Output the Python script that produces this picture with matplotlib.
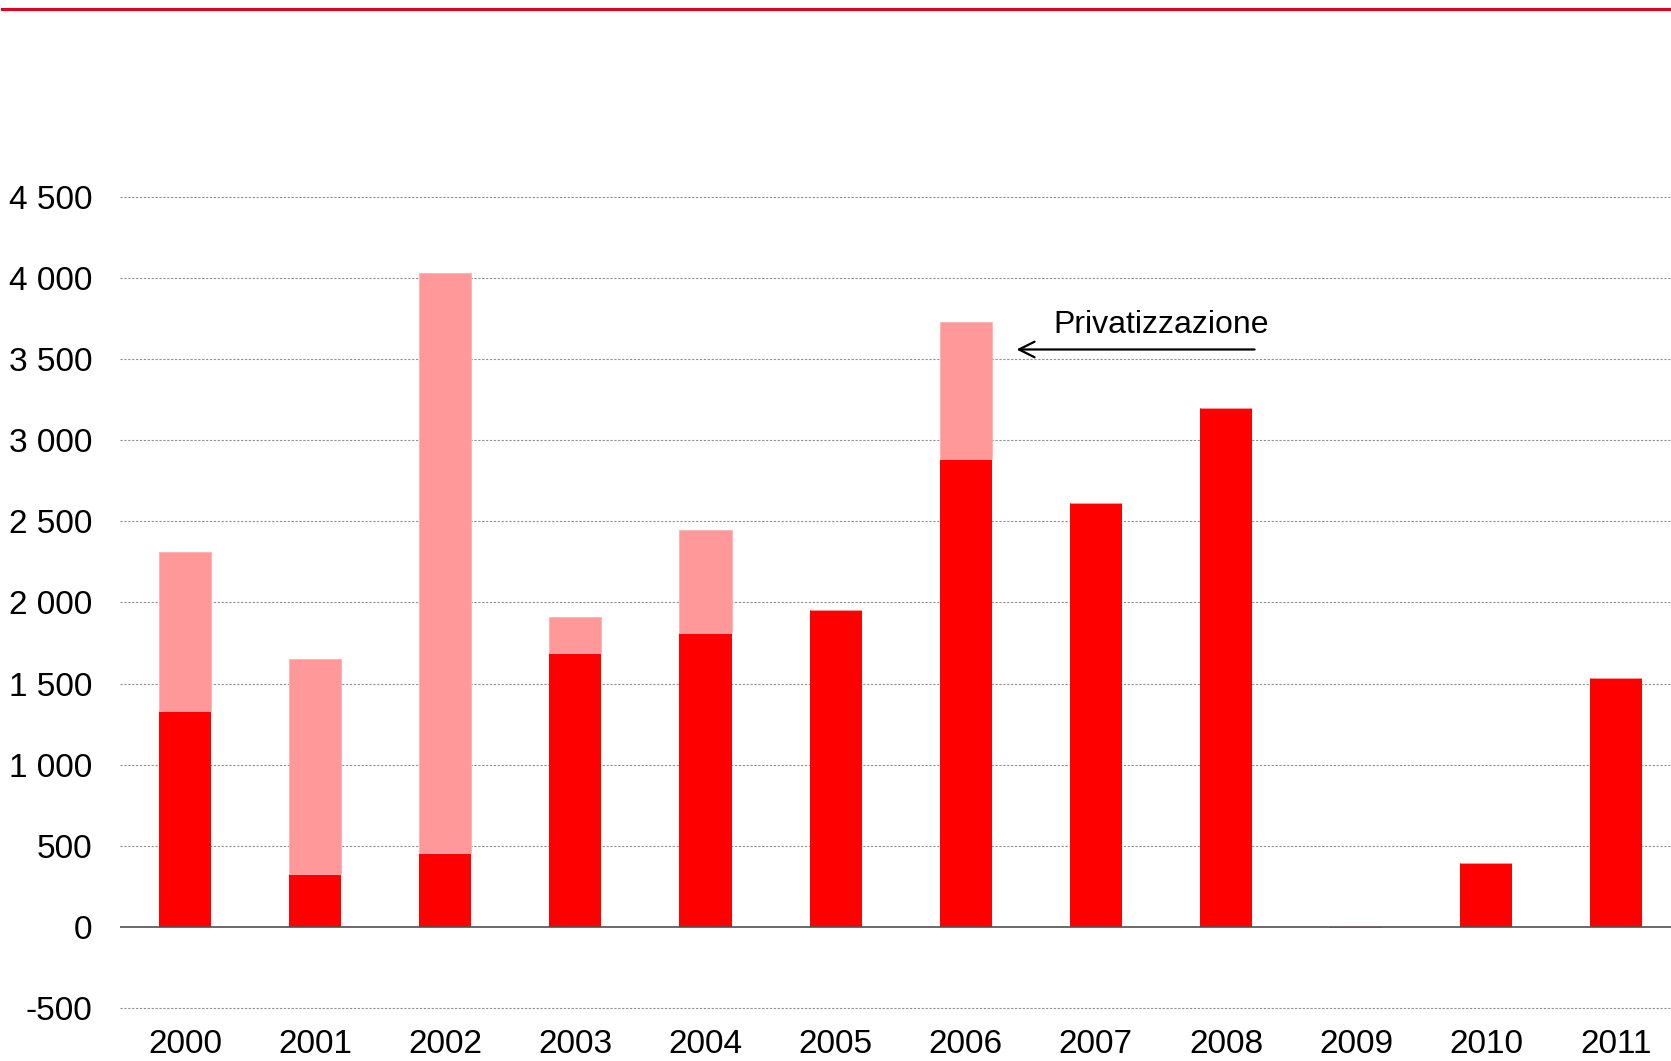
import matplotlib
matplotlib.use("Agg")
import matplotlib.pyplot as plt
from matplotlib.lines import Line2D
from matplotlib.ticker import FuncFormatter

years = ["2000", "2001", "2002", "2003", "2004", "2005", "2006", "2007", "2008", "2009", "2010", "2011"]
base_values = [1334, 328, 453, 1688, 1813, 1951, 2884, 2614, 3199, -8, 394, 1537]
privatization = [978, 1321, 3581, 224, 631, 0, 847, 0, 0, 0, 0, 0]
y_ticks = [-500, 0, 500, 1000, 1500, 2000, 2500, 3000, 3500, 4000, 4500]
annotation_text = "Privatizzazione"

plt.rcParams['font.family'] = ['Liberation Sans', 'DejaVu Sans']

fig = plt.figure(figsize=(16.71, 10.61), dpi=100)
ax = fig.add_axes([0.0718, 0.05, 0.9282, 0.7643])

x = list(range(len(years)))
ax.bar(x, base_values, width=0.4, color="#FF0000", zorder=3)
ax.bar(x, privatization, width=0.4, bottom=[max(b, 0) for b in base_values],
       color="#FF9999", zorder=3, edgecolor="#FFB0B0", linewidth=0.6)

ax.set_xlim(-0.5, 11.42)
ax.set_ylim(-500, 4500)
ax.set_yticks(y_ticks)
ax.yaxis.set_major_formatter(FuncFormatter(lambda v, p: f"{int(v):,}".replace(",", " ")))
ax.set_xticks(x)
ax.set_xticklabels(years)

for v in y_ticks:
    if v != 0:
        ax.axhline(v, color="#909090", linestyle=(0, (2, 1.5)), linewidth=0.8, zorder=1,
                   clip_on=False)
ax.axhline(0, color="#505050", linewidth=1.2, zorder=4)

for s in ax.spines.values():
    s.set_visible(False)
ax.tick_params(axis="both", length=0, labelsize=24)
ax.tick_params(axis="y", pad=20)
ax.tick_params(axis="x", pad=15.5)

ax.annotate("", xy=(6.39, 3560), xytext=(8.22, 3560),
            arrowprops=dict(arrowstyle="->", color="black", lw=1.6,
                            mutation_scale=28, shrinkA=0, shrinkB=0), zorder=5)
ax.text(6.67, 3712, annotation_text, fontsize=23, ha="left", va="center", zorder=5)

fig.add_artist(Line2D([0.001, 1.0], [0.9915, 0.9915], color="#E3001B", linewidth=2.2,
                      transform=fig.transFigure))

fig.savefig("out.png", dpi=100)
